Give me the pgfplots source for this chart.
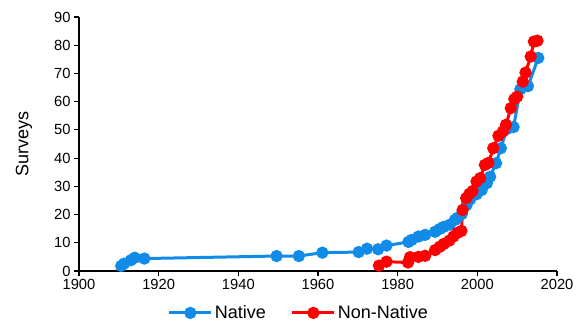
\documentclass[border=0pt]{standalone}
\usepackage{pgfplots}
\pgfplotsset{compat=1.18}
\usepackage{fontspec}
\setmainfont{Liberation Sans}
\definecolor{nblue}{RGB}{16,140,232}
\definecolor{nred}{RGB}{255,0,0}
\begin{document}
\begin{tikzpicture}
\begin{axis}[
  name=ax,
  scale only axis,
  width=478pt, height=254pt,
  xmin=1900, xmax=2020, ymin=0, ymax=90,
  xtick={1900,1920,...,2020},
  ytick={0,10,...,90},
  axis x line*=bottom, axis y line*=left,
  x axis line style={-, line width=1.5pt},
  y axis line style={-, line width=2.5pt},
  tick align=outside,
  major tick length=5pt,
  tick style={black, line width=1.2pt},
  xticklabel style={/pgf/number format/1000 sep={}},
  /pgf/number format/assume math mode=true,
  tick label style={font=\fontsize{14.7}{17}\selectfont},
  ylabel={Surveys},
  every axis y label/.style={at={(axis description cs:-0.115,0.5)}, rotate=90, anchor=center, font=\fontsize{18}{21}\selectfont},
  legend style={draw=none, at={(0.46,-0.165)}, anchor=center, legend columns=2,
    font=\fontsize{18}{21}\selectfont, inner sep=0pt,
    /tikz/every even column/.append style={column sep=23pt}},
  legend image code/.code={\draw[#1, mark repeat=2, mark phase=2] plot coordinates {(0pt,0pt) (21pt,0pt) (42pt,0pt)};},
  legend cell align=left,
  clip=false,
]
\addplot[nblue, line width=3pt, mark=*, mark size=4.6pt, mark options={solid}] coordinates {
(1910.6,1.8) (1911.3,2.6) (1913.0,3.8) (1914.0,4.7) (1916.4,4.4)
(1949.6,5.3) (1955.2,5.3) (1961.1,6.5) (1970.2,6.7) (1972.3,7.9)
(1975.1,7.7) (1977.2,9.0) (1982.7,10.3) (1983.5,11.0) (1985.2,12.2)
(1986.9,12.8) (1989.4,13.9) (1990.6,14.9) (1991.5,15.6) (1993.1,16.4)
(1994.4,18.1) (1995.0,18.8) (1996.1,20.2) (1997.3,23.4) (1998.2,25.4)
(1999.8,27.2) (2001.1,28.7) (2002.4,31.1) (2003.2,33.4) (2004.7,38.2)
(2005.9,43.5) (2007.4,50.3) (2009.1,51.0) (2010.8,64.4) (2012.7,65.5)
(2015.3,75.5)
};
\addlegendentry{Native}
\addplot[nred, line width=3pt, mark=*, mark size=4.6pt, mark options={solid}] coordinates {
(1975.3,1.9) (1977.2,3.3) (1982.6,3.0) (1983.1,4.9) (1985.2,5.0)
(1986.9,5.4) (1989.4,7.4) (1990.6,8.6) (1991.6,9.6) (1993.0,10.8)
(1994.0,12.2) (1995.0,13.5) (1996.0,14.2) (1996.3,21.6) (1997.2,25.8)
(1998.0,27.3) (1998.8,28.3) (1999.8,31.7) (2000.7,32.9) (2001.9,37.6)
(2002.8,38.3) (2004.0,43.5) (2005.3,47.9) (2006.4,49.4) (2007.2,51.8)
(2008.4,57.7) (2009.3,60.9) (2010.0,61.8) (2011.4,67.1) (2012.1,70.3)
(2013.4,76.0) (2014.2,81.3) (2015.1,81.6)
};
\addlegendentry{Non-Native}
\end{axis}
\path[use as bounding box] ([xshift=-79pt,yshift=-57pt]ax.south west) rectangle ([xshift=26pt,yshift=17pt]ax.north east);
\end{tikzpicture}
\end{document}
